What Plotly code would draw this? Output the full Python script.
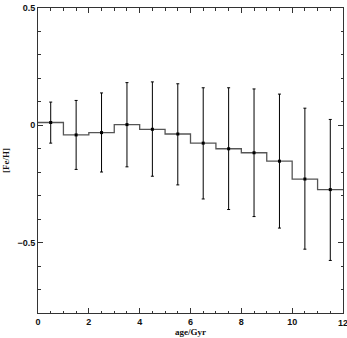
import plotly.graph_objects as go

age_centers = [0.5, 1.5, 2.5, 3.5, 4.5, 5.5, 6.5, 7.5, 8.5, 9.5, 10.5, 11.5]
feh = [0.012, -0.041, -0.031, 0.003, -0.017, -0.037, -0.076, -0.100, -0.117, -0.153, -0.229, -0.274]
err_up = [0.099, 0.106, 0.138, 0.182, 0.185, 0.177, 0.160, 0.160, 0.155, 0.133, 0.073, 0.025]
err_lo = [-0.076, -0.188, -0.199, -0.177, -0.217, -0.254, -0.314, -0.359, -0.389, -0.438, -0.528, -0.576]
bin_edges = [0, 1, 2, 3, 4, 5, 6, 7, 8, 9, 10, 11, 12]
x_ticks = [0, 2, 4, 6, 8, 10, 12]
y_ticks = [-0.5, 0, 0.5]
y_ticklabels = ["\u22120.5", "0", "0.5"]

plus = [u - v for u, v in zip(err_up, feh)]
minus = [v - l for v, l in zip(feh, err_lo)]

fig = go.Figure()
fig.add_trace(go.Scatter(
    x=bin_edges, y=feh + [feh[-1]], mode="lines", line_shape="hv",
    line=dict(color="#555555", width=1.3), hoverinfo="skip", showlegend=False))
fig.add_trace(go.Scatter(
    x=age_centers, y=feh, mode="markers",
    marker=dict(symbol="square", size=3, color="black"),
    error_y=dict(type="data", symmetric=False, array=plus, arrayminus=minus,
                 color="black", thickness=1, width=1.5),
    showlegend=False))

font = dict(family="Liberation Serif", size=9, color="#111111")
tfont = dict(family="Liberation Sans", size=9, color="#111111")
fig.update_layout(
    width=347, height=338,
    margin=dict(l=38, r=4, t=8, b=25),
    paper_bgcolor="white", plot_bgcolor="white",
    font=font,
    xaxis=dict(range=[0, 12], tickvals=x_ticks,
               ticktext=["<b>%d</b>" % v for v in x_ticks],
               ticks="inside", ticklen=5, automargin=False,
               tickcolor="#333", showline=True, linecolor="#333", linewidth=1,
               mirror="ticks", showgrid=False, zeroline=False,
               minor=dict(dtick=0.5, ticks="inside", ticklen=2.5, tickcolor="#333"),
               title=dict(text="<b>age/Gyr</b>", standoff=2, font=font),
               tickfont=tfont),
    yaxis=dict(range=[-0.8, 0.5], tickvals=y_ticks,
               ticktext=["<b>" + t + "</b>" for t in y_ticklabels],
               ticks="inside", ticklen=5, automargin=False,
               tickcolor="#333", showline=True, linecolor="#333", linewidth=1,
               mirror="ticks", showgrid=False, zeroline=False,
               minor=dict(dtick=0.1, tick0=0, ticks="inside", ticklen=2.5, tickcolor="#333"),
               title=dict(text="<b>[Fe/H]</b>", standoff=6, font=font),
               tickfont=tfont),
)
# last x tick label, clipped by the page edge as in the reference
fig.add_annotation(x=x_ticks[-1], xref="x", y=0, yref="paper", yanchor="top",
                   yshift=-3, text="<b>%d</b>" % x_ticks[-1], showarrow=False,
                   font=tfont)
fig.write_html("out.html")
